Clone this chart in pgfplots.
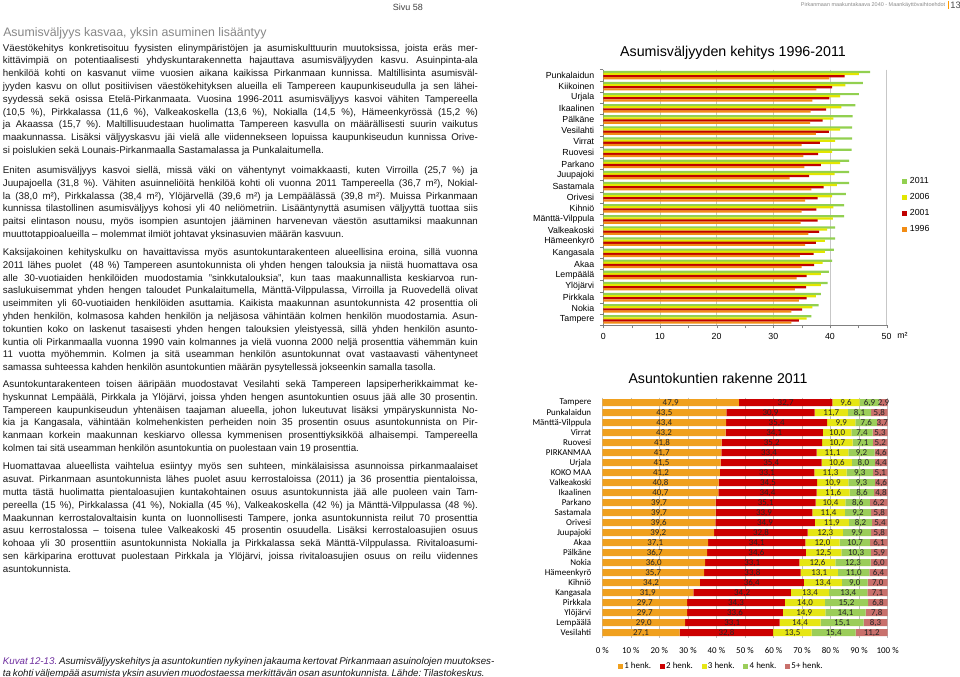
\documentclass[border=0pt]{standalone}
\usepackage{fontspec}
\setmainfont{Liberation Sans}
\newfontfamily\calibri{Carlito}
\usepackage{pgfplots}
\pgfplotsset{compat=1.18}
\usepackage{pgfplotstable}
\frenchspacing

\definecolor{bodytext}{RGB}{25,25,25}
\definecolor{titlegray}{RGB}{135,135,135}
\definecolor{capviolet}{RGB}{112,48,160}
\definecolor{gA}{RGB}{146,208,80}
\definecolor{yA}{RGB}{226,230,0}
\definecolor{rA}{RGB}{192,0,0}
\definecolor{oA}{RGB}{242,140,20}
\definecolor{o2}{RGB}{240,160,30}
\definecolor{r2}{RGB}{204,0,0}
\definecolor{y2}{RGB}{230,230,20}
\definecolor{g2}{RGB}{155,205,90}
\definecolor{p2}{RGB}{200,112,108}

\newcommand\J[1]{\hbox to\hsize{#1}}
\newcommand\R[1]{\hbox{#1}}

\pgfplotsset{
  sqA/.style={legend image code/.code={\fill[##1] (0pt,-1.6pt) rectangle (3.2pt,1.6pt);\path (4.6pt,0pt);}},
  sqB/.style={legend image code/.code={\fill[##1] (0pt,-1.9pt) rectangle (3.8pt,1.9pt);}},
}

% Asumisvaljyys (m2 per henkilo), rivit ylhaalta alas
\pgfplotstableread{
y2011 y2006 y2001 y1996
47.1 45.1 42.6 39.9
45.8 42.7 40.4 37.6
45.1 41.8 39.9 36.9
44.5 42.0 39.3 36.6
44.0 40.6 38.7 36.5
43.9 41.8 39.8 37.5
43.9 40.9 38.2 35.0
43.8 40.4 37.9 35.3
43.4 41.8 38.4 35.5
43.4 40.8 36.3 32.9
43.4 41.2 38.9 36.7
42.8 40.4 37.8 35.6
42.5 40.6 37.6 35.0
42.5 40.5 37.8 34.8
40.9 39.5 38.1 36.2
40.9 39.1 37.5 35.6
40.7 39.1 37.1 34.7
40.4 38.7 37.2 35.0
39.8 38.4 35.9 34.1
39.6 38.4 35.8 33.8
38.4 37.5 35.9 34.5
38.0 36.9 35.1 33.2
36.7 35.9 34.5 33.2
}\valjyys

% Asuntokuntien rakenne 2011 (%)
\pgfplotstableread{
a b c d e
47.9 32.7 9.6 6.9 2.9
43.5 30.9 11.7 8.1 5.8
43.4 35.4 9.9 7.6 3.7
43.2 34.1 10.0 7.4 5.3
41.8 35.2 10.7 7.1 5.2
41.7 33.4 11.1 9.2 4.6
41.5 35.4 10.6 8.0 4.4
41.2 33.1 11.3 9.3 5.1
40.8 34.5 10.9 9.3 4.6
40.7 34.4 11.6 8.6 4.8
39.7 35.1 10.4 8.6 6.2
39.7 33.9 11.4 9.2 5.8
39.6 34.9 11.9 8.2 5.4
39.2 32.8 12.3 9.9 5.8
37.1 34.1 12.0 10.7 6.1
36.7 34.6 12.5 10.3 5.9
36.0 33.1 12.6 12.3 6.0
35.7 33.8 13.1 11.0 6.4
34.2 36.4 13.4 9.0 7.0
31.9 34.2 13.4 13.4 7.1
29.7 34.3 14.0 15.2 6.8
29.7 33.6 14.9 14.1 7.8
29.0 33.1 14.4 15.1 8.3
27.1 32.8 13.5 15.4 11.2
}\rakenne

\begin{document}
\begin{tikzpicture}
\useasboundingbox[fill=white] (0,0) rectangle (720pt,-507.75pt);

\begin{scope}[x=0.75pt,y=-0.75pt]
% header
\node[anchor=center, inner sep=0, text=black!75, font=\fontsize{6.75}{8}\selectfont] at (408,7.3) {Sivu 58};
\node[anchor=east, inner sep=0, text=black!45, font=\fontsize{4.1}{5}\selectfont] at (945.5,5) {Pirkanmaan maakuntakaava 2040 - Maankäyttövaihtoehdot};
\fill[orange!80!yellow] (947.6,1) rectangle (948.9,9.5);
\node[anchor=west, inner sep=0, text=black!70, font=\fontsize{7}{8}\selectfont] at (950.2,5.3) {13};

% left column text
\node[anchor=base west, inner sep=0, text=titlegray, font=\fontsize{9.25}{11}\selectfont] at (3.0,37.0) {Asumisväljyys kasvaa, yksin asuminen lisääntyy};

\tikzset{para/.style={anchor=base west, inner sep=0, text=bodytext, font=\fontsize{7.3}{9.6}\selectfont}}

\node[para] at (2.7,51.2) {\parbox[t]{356.25pt}{%
\J{Väestökehitys konkretisoituu fyysisten elinympäristöjen ja asumiskulttuurin muutoksissa, joista eräs mer-}
\J{kittävimpiä on potentiaalisesti yhdyskuntarakennetta hajauttava asumisväljyyden kasvu. Asuinpinta-ala}
\J{henkilöä kohti on kasvanut viime vuosien aikana kaikissa Pirkanmaan kunnissa. Maltillisinta asumisväl-}
\J{jyyden kasvu on ollut positiivisen väestökehityksen alueilla eli Tampereen kaupunkiseudulla ja sen lähei-}
\J{syydessä sekä osissa Etelä-Pirkanmaata. Vuosina 1996-2011 asumisväljyys kasvoi vähiten Tampereella}
\J{(10,5 \%), Pirkkalassa (11,6 \%), Valkeakoskella (13,6 \%), Nokialla (14,5 \%), Hämeenkyrössä (15,2 \%)}
\J{ja Akaassa (15,7 \%). Maltillisuudestaan huolimatta Tampereen kasvulla on määrällisesti suurin vaikutus}
\J{maakunnassa. Lisäksi väljyyskasvu jäi vielä alle viidennekseen lopuissa kaupunkiseudun kunnissa Orive-}
\R{si poislukien sekä Lounais-Pirkanmaalla Sastamalassa ja Punkalaitumella.}}};

\node[para] at (2.7,173.5) {\parbox[t]{356.25pt}{%
\J{Eniten asumisväljyys kasvoi siellä, missä väki on vähentynyt voimakkaasti, kuten Virroilla (25,7 \%) ja}
\J{Juupajoella (31,8 \%). Vähiten asuinneliöitä henkilöä kohti oli vuonna 2011 Tampereella (36,7 m²), Nokial-}
\J{la (38,0 m²), Pirkkalassa (38,4 m²), Ylöjärvellä (39,6 m²) ja Lempäälässä (39,8 m²). Muissa Pirkanmaan}
\J{kunnissa tilastollinen asumisväljyys kohosi yli 40 neliömetriin. Lisääntynyttä asumisen väljyyttä tuottaa siis}
\J{paitsi elintason nousu, myös isompien asuntojen jääminen harvenevan väestön asuttamiksi maakunnan}
\R{muuttotappioalueilla – molemmat ilmiöt johtavat yksinasuvien määrän kasvuun.}}};

\node[para] at (2.7,255.5) {\parbox[t]{356.25pt}{%
\J{Kaksijakoinen kehityskulku on havaittavissa myös asuntokuntarakenteen alueellisina eroina, sillä vuonna}
\J{2011 lähes puolet \ (48 \%) Tampereen asuntokunnista oli yhden hengen talouksia ja niistä huomattava osa}
\J{alle 30-vuotiaiden henkilöiden muodostamia "sinkkutalouksia", kun taas maakunnallista keskiarvoa run-}
\J{saslukuisemmat yhden hengen taloudet Punkalaitumella, Mänttä-Vilppulassa, Virroilla ja Ruovedellä olivat}
\J{useimmiten yli 60-vuotiaiden henkilöiden asuttamia. Kaikista maakunnan asuntokunnista 42 prosenttia oli}
\J{yhden henkilön, kolmasosa kahden henkilön ja neljäsosa vähintään kolmen henkilön muodostamia. Asun-}
\J{tokuntien koko on laskenut tasaisesti yhden hengen talouksien yleistyessä, sillä yhden henkilön asunto-}
\J{kuntia oli Pirkanmaalla vuonna 1990 vain kolmannes ja vielä vuonna 2000 neljä prosenttia vähemmän kuin}
\J{11 vuotta myöhemmin. Kolmen ja sitä useamman henkilön asuntokunnat ovat vastaavasti vähentyneet}
\R{samassa suhteessa kahden henkilön asuntokuntien määrän pysytellessä jokseenkin samalla tasolla.}}};

\node[para] at (2.7,387.5) {\parbox[t]{356.25pt}{%
\J{Asuntokuntarakenteen toisen ääripään muodostavat Vesilahti sekä Tampereen lapsiperherikkaimmat ke-}
\J{hyskunnat Lempäälä, Pirkkala ja Ylöjärvi, joissa yhden hengen asuntokuntien osuus jää alle 30 prosentin.}
\J{Tampereen kaupunkiseudun yhtenäisen taajaman alueella, johon lukeutuvat lisäksi ympäryskunnista No-}
\J{kia ja Kangasala, vähintään kolmehenkisten perheiden noin 35 prosentin osuus asuntokunnista on Pir-}
\J{kanmaan korkein maakunnan keskiarvo ollessa kymmenisen prosenttiyksikköä alhaisempi. Tampereella}
\R{kolmen tai sitä useamman henkilön asuntokuntia on puolestaan vain 19 prosenttia.}}};

\node[para] at (2.7,469.8) {\parbox[t]{356.25pt}{%
\J{Huomattavaa alueellista vaihtelua esiintyy myös sen suhteen, minkälaisissa asunnoissa pirkanmaalaiset}
\J{asuvat. Pirkanmaan asuntokunnista lähes puolet asuu kerrostaloissa (2011) ja 36 prosenttia pientaloissa,}
\J{mutta tästä huolimatta pientaloasujien kuntakohtainen osuus asuntokunnista jää alle puoleen vain Tam-}
\J{pereella (15 \%), Pirkkalassa (41 \%), Nokialla (45 \%), Valkeakoskella (42 \%) ja Mänttä-Vilppulassa (48 \%).}
\J{Maakunnan kerrostalovaltaisin kunta on luonnollisesti Tampere, jonka asuntokunnista reilut 70 prosenttia}
\J{asuu kerrostalossa – toisena tulee Valkeakoski 45 prosentin osuudella. Lisäksi kerrostaloasujien osuus}
\J{kohoaa yli 30 prosenttiin asuntokunnista Nokialla ja Pirkkalassa sekä Mänttä-Vilppulassa. Rivitaloasumi-}
\J{sen kärkiparina erottuvat puolestaan Pirkkala ja Ylöjärvi, joissa rivitaloasujien osuus on reilu viidennes}
\R{asuntokunnista.}}};

\node[para, font=\fontsize{7.3}{9.3}\selectfont\itshape] at (2.7,664.3) {\parbox[t]{352pt}{%
\J{\textcolor{capviolet}{Kuvat 12-13.} Asumisväljyyskehitys ja asuntokuntien nykyinen jakauma kertovat Pirkanmaan asuinolojen muutokses-}
\J{ta kohti väljempää asumista yksin asuvien muodostaessa merkittävän osan asuntokunnista. Lähde: Tilastokeskus.}}};

% chart titles and unit
\node[anchor=base, inner sep=0, font=\fontsize{10.7}{12}\selectfont] at (733,57) {Asumisväljyyden kehitys 1996-2011};
\node[anchor=base, inner sep=0, font=\fontsize{10.6}{12}\selectfont] at (718,383) {Asuntokuntien rakenne 2011};
\node[anchor=west, inner sep=0, font=\fontsize{6.6}{8}\selectfont] at (897,335.5) {m²};
\end{scope}

% ---------- Chart 1 ----------
\begin{axis}[
  at={(603.3*0.75pt,-325*0.75pt)}, anchor=south west,
  scale only axis, width=212.5pt, height=191.6pt,
  xbar, bar width=0.2,
  xmin=0, xmax=50, ymin=-0.5, ymax=22.5, y dir=reverse,
  ytick={0,...,22},
  yticklabels={Punkalaidun,Kiikoinen,Urjala,Ikaalinen,Pälkäne,Vesilahti,Virrat,Ruovesi,Parkano,Juupajoki,Sastamala,Orivesi,Kihniö,Mänttä-Vilppula,Valkeakoski,Hämeenkyrö,Kangasala,Akaa,Lempäälä,Ylöjärvi,Pirkkala,Nokia,Tampere},
  minor ytick={-0.5,0.5,...,22.5},
  xtick={0,10,...,50}, minor xtick={5,15,...,45},
  /pgf/number format/assume math mode=true,
  tick align=outside, major tick length=2.5pt, minor tick length=2.5pt,
  major y tick style={draw=none},
  axis x line*=bottom, axis y line*=left,
  axis line style={black!50},
  tick style={black!50},
  xmajorgrids, major grid style={black!22},
  tick label style={font=\fontsize{6.6}{8}\selectfont},
  xticklabel style={yshift=-0.6pt},
  yticklabel style={xshift=-0.8pt},
  legend style={at={(1.055,0.584)}, anchor=north west, draw=none, fill=none,
    font=\fontsize{6.6}{8}\selectfont, row sep=3.9pt, inner sep=0pt,
    nodes={inner sep=1pt}},
  legend cell align=left,
]
\addplot[fill=gA, draw=none, bar shift=-0.285, sqA] table[x=y2011, y expr=\coordindex] {\valjyys};
\addplot[fill=yA, draw=none, bar shift=-0.095, sqA] table[x=y2006, y expr=\coordindex] {\valjyys};
\addplot[fill=rA, draw=none, bar shift=0.095, sqA] table[x=y2001, y expr=\coordindex] {\valjyys};
\addplot[fill=oA, draw=none, bar shift=0.285, sqA] table[x=y1996, y expr=\coordindex] {\valjyys};
\legend{2011,2006,2001,1996}
\end{axis}

% ---------- Chart 2 ----------
\begin{axis}[
  at={(602.3*0.75pt,-637.7*0.75pt)}, anchor=south west,
  scale only axis, width=214pt, height=180pt,
  xbar stacked, bar width=0.7,
  xmin=0, xmax=100, ymin=-0.5, ymax=23.5, y dir=reverse,
  ytick={0,...,23},
  yticklabels={Tampere,Punkalaidun,Mänttä-Vilppula,Virrat,Ruovesi,PIRKANMAA,Urjala,KOKO MAA,Valkeakoski,Ikaalinen,Parkano,Sastamala,Orivesi,Juupajoki,Akaa,Pälkäne,Nokia,Hämeenkyrö,Kihniö,Kangasala,Pirkkala,Ylöjärvi,Lempäälä,Vesilahti},
  xtick={0,10,...,100},
  xticklabels={0 \%,10 \%,20 \%,30 \%,40 \%,50 \%,60 \%,70 \%,80 \%,90 \%,100 \%},
  axis line style={draw=none}, tick style={draw=none},
  xmajorgrids, major grid style={black!25},
  tick label style={font=\calibri\fontsize{6.7}{8}\selectfont},
  xticklabel style={yshift=-3.6pt},
  yticklabel style={xshift=-4.8pt},
  legend style={at={(0.416,-0.121)}, anchor=center, draw=none, fill=none,
    font=\calibri\fontsize{6.7}{8}\selectfont, inner sep=0pt,
    nodes={inner sep=1pt},
    /tikz/every even column/.append style={column sep=5.5pt}},
  legend columns=5,
]
\addplot[fill=o2, draw=none, sqB] table[x=a, y expr=\coordindex] {\rakenne};
\addplot[fill=r2, draw=none, sqB] table[x=b, y expr=\coordindex] {\rakenne};
\addplot[fill=y2, draw=none, sqB] table[x=c, y expr=\coordindex] {\rakenne};
\addplot[fill=g2, draw=none, sqB] table[x=d, y expr=\coordindex] {\rakenne};
\addplot[fill=p2, draw=none, sqB] table[x=e, y expr=\coordindex] {\rakenne};
\legend{1 henk.,2 henk.,3 henk.,4 henk.,5+ henk.}
\end{axis}

% value labels of chart 2
\begin{axis}[
  at={(602.3*0.75pt,-637.7*0.75pt)}, anchor=south west,
  scale only axis, width=214pt, height=180pt,
  xmin=0, xmax=100, ymin=-0.5, ymax=23.5, y dir=reverse,
  hide axis, clip=false,
  nodes near coords={\pgfmathprintnumber[use comma,fixed,fixed zerofill,precision=1,assume math mode=true]{\pgfplotspointmeta}},
  nodes near coords align={center},
  every node near coord/.append style={font=\calibri\fontsize{6.7}{8}\selectfont, text=black!85, inner sep=0pt},
  point meta=explicit,
]
\addplot[draw=none, mark=none] table[x expr=\thisrow{a}/2, y expr=\coordindex, meta=a] {\rakenne};
\addplot[draw=none, mark=none] table[x expr=\thisrow{a}+\thisrow{b}/2, y expr=\coordindex, meta=b] {\rakenne};
\addplot[draw=none, mark=none] table[x expr=\thisrow{a}+\thisrow{b}+\thisrow{c}/2, y expr=\coordindex, meta=c] {\rakenne};
\addplot[draw=none, mark=none] table[x expr=\thisrow{a}+\thisrow{b}+\thisrow{c}+\thisrow{d}/2, y expr=\coordindex, meta=d] {\rakenne};
\addplot[draw=none, mark=none] table[x expr=\thisrow{a}+\thisrow{b}+\thisrow{c}+\thisrow{d}+\thisrow{e}/2, y expr=\coordindex, meta=e] {\rakenne};
\end{axis}
\end{tikzpicture}
\end{document}
